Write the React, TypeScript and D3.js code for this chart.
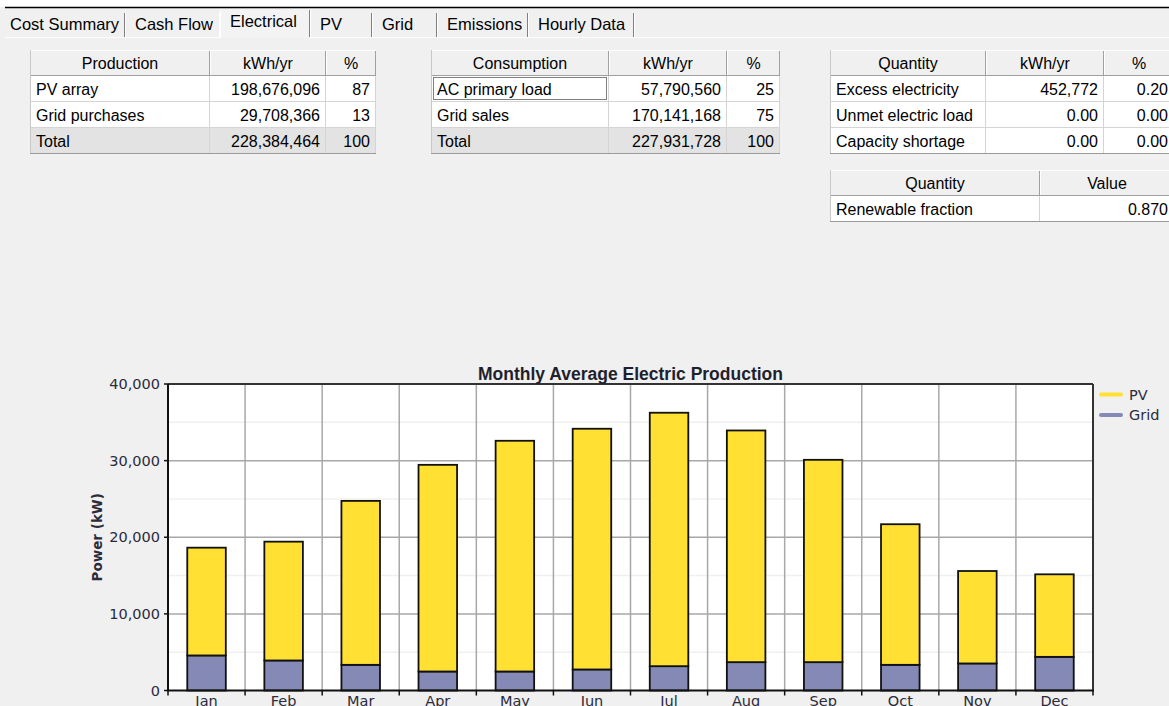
import React from "react";
import * as d3 from "d3";

const months = ["Jan", "Feb", "Mar", "Apr", "May", "Jun", "Jul", "Aug", "Sep", "Oct", "Nov", "Dec"];
const gridPower = [4575, 3920, 3350, 2480, 2480, 2745, 3175, 3700, 3700, 3350, 3530, 4390];
const pvPower = [14065, 15505, 21395, 26970, 30110, 31415, 33075, 30235, 26405, 18350, 12065, 10773];
const yTicks = [0, 10000, 20000, 30000, 40000];
const seriesNames = ["Grid", "PV"];
const legendNames = ["PV", "Grid"];
const seriesColors: Record<string, string> = { PV: "#ffe033", Grid: "#8489b5" };

const tabs = ["Cost Summary", "Cash Flow", "Electrical", "PV", "Grid", "Emissions", "Hourly Data"];

const productionHeader = ["Production", "kWh/yr", "%"];
const productionRows = [
  ["PV array", "198,676,096", "87"],
  ["Grid purchases", "29,708,366", "13"],
];
const productionTotal = ["Total", "228,384,464", "100"];

const consumptionHeader = ["Consumption", "kWh/yr", "%"];
const consumptionRows = [
  ["AC primary load", "57,790,560", "25"],
  ["Grid sales", "170,141,168", "75"],
];
const consumptionTotal = ["Total", "227,931,728", "100"];

const quantityHeader = ["Quantity", "kWh/yr", "%"];
const quantityRows = [
  ["Excess electricity", "452,772", "0.20"],
  ["Unmet electric load", "0.00", "0.00"],
  ["Capacity shortage", "0.00", "0.00"],
];

const renewableHeader = ["Quantity", "Value"];
const renewableRows = [["Renewable fraction", "0.870"]];

const UI_FONT = "'Liberation Sans', Arial, sans-serif";
const CHART_FONT = "'DejaVu Sans', Verdana, sans-serif";

type TableProps = {
  x: number;
  y: number;
  cols: number[];
  header: string[];
  rows: string[][];
  total?: string[];
  rowH?: number;
  focusFirst?: boolean;
};

function Table({ x, y, cols, header, rows, total, rowH = 26, focusFirst }: TableProps) {
  const edges = [x];
  cols.forEach((w) => edges.push(edges[edges.length - 1] + w));
  const allRows = total ? [...rows, total] : rows;
  const totalH = rowH * (allRows.length + 1);
  return (
    <g fontFamily={UI_FONT} fontSize={16} fill="#000">
      {header.map((h, i) => (
        <g key={"h" + i}>
          <rect x={edges[i]} y={y} width={cols[i]} height={rowH} fill="#f0f0f0" />
          <line x1={edges[i] + 0.5} x2={edges[i + 1]} y1={y + 0.5} y2={y + 0.5} stroke="#ffffff" />
          <line x1={edges[i] + 0.5} x2={edges[i] + 0.5} y1={y} y2={y + rowH} stroke="#ffffff" />
          <line x1={edges[i + 1] - 0.5} x2={edges[i + 1] - 0.5} y1={y + 1} y2={y + rowH} stroke="#a0a0a0" />
          <line x1={edges[i]} x2={edges[i + 1]} y1={y + rowH - 0.5} y2={y + rowH - 0.5} stroke="#a0a0a0" />
          <text x={(edges[i] + edges[i + 1]) / 2} y={y + 19} textAnchor="middle">
            {h}
          </text>
        </g>
      ))}
      {allRows.map((r, ri) => {
        const ry = y + rowH * (ri + 1);
        const isTotal = total && ri === allRows.length - 1;
        return (
          <g key={"r" + ri}>
            {r.map((c, ci) => (
              <g key={ci}>
                <rect
                  x={edges[ci]}
                  y={ry}
                  width={cols[ci]}
                  height={rowH}
                  fill={isTotal ? "#e3e3e3" : "#ffffff"}
                />
                <line x1={edges[ci + 1] - 0.5} x2={edges[ci + 1] - 0.5} y1={ry} y2={ry + rowH} stroke="#d4d4d4" />
                <line x1={edges[ci]} x2={edges[ci + 1]} y1={ry + rowH - 0.5} y2={ry + rowH - 0.5} stroke="#d4d4d4" />
                <text
                  x={ci === 0 ? edges[ci] + 6 : edges[ci + 1] - 6}
                  y={ry + 19}
                  textAnchor={ci === 0 ? "start" : "end"}
                >
                  {c}
                </text>
              </g>
            ))}
          </g>
        );
      })}
      <line x1={x + 0.5} x2={x + 0.5} y1={y} y2={y + totalH} stroke="#c8c8c8" />
      <line x1={x} x2={edges[edges.length - 1]} y1={y + totalH - 0.5} y2={y + totalH - 0.5} stroke="#9a9a9a" />
      {focusFirst && (
        <rect
          x={edges[0] + 2.5}
          y={y + rowH + 1.5}
          width={cols[0] - 5}
          height={rowH - 4}
          fill="none"
          stroke="#000"
          strokeDasharray="1 1"
        />
      )}
    </g>
  );
}

const tabEdges = [5, 125, 220, 310, 372, 437, 528, 634];

function Tabs() {
  return (
    <g fontFamily={UI_FONT} fontSize={16.5} fill="#000">
      <rect x={0} y={0} width={1169} height={7} fill="#ffffff" />
      <line x1={5} x2={1169} y1={7.5} y2={7.5} stroke="#000" strokeWidth={1.5} />
      <line x1={5} x2={1169} y1={37.5} y2={37.5} stroke="#ffffff" />
      <rect x={tabEdges[2]} y={9} width={tabEdges[3] - tabEdges[2]} height={29} fill="#f3f3f3" />
      {tabs.map((t, i) => {
        const x0 = tabEdges[i];
        const x1 = tabEdges[i + 1];
        const selected = i === 2;
        return (
          <g key={t}>
            <text x={x0 + (i === 0 ? 5 : 10)} y={selected ? 27 : 29.5}>
              {t}
            </text>
            {i !== 1 && (
              <>
                <line x1={x1 - 0.5} x2={x1 - 0.5} y1={selected ? 10 : 13} y2={37} stroke="#808080" />
                <line x1={x1 + 0.5} x2={x1 + 0.5} y1={selected ? 10 : 13} y2={37} stroke="#ffffff" />
              </>
            )}
            {i === 1 && <line x1={x1 - 0.5} x2={x1 - 0.5} y1={13} y2={37} stroke="#ffffff" />}
          </g>
        );
      })}
      <line x1={tabEdges[2] + 0.5} x2={tabEdges[2] + 0.5} y1={10} y2={37} stroke="#ffffff" />
    </g>
  );
}

function Chart() {
  const left = 168;
  const right = 1093;
  const top = 384;
  const bottom = 690.5;

  const x = d3.scaleBand<string>().domain(months).range([left, right]).paddingInner(0.5).paddingOuter(0.25);
  const y = d3.scaleLinear().domain([0, 40000]).range([bottom, top]);
  const step = x.step();

  const data = months.map((m, i) => ({ month: m, Grid: gridPower[i], PV: pvPower[i] }));
  const stacked = d3.stack<any>().keys(seriesNames)(data);

  const minorTicks = d3.range(5000, 40000, 10000);

  return (
    <g>
      <rect x={left} y={top} width={right - left} height={bottom - top} fill="#ffffff" />
      {minorTicks.map((t) => (
        <line key={"m" + t} x1={left} x2={right} y1={y(t)} y2={y(t)} stroke="#f0f0f0" strokeWidth={1.5} />
      ))}
      {yTicks.slice(1, -1).map((t) => (
        <line key={"g" + t} x1={left} x2={right} y1={y(t)} y2={y(t)} stroke="#a8a8a8" strokeWidth={1.5} />
      ))}
      {months.slice(1).map((m, i) => {
        const gx = left + step * (i + 1);
        return <line key={"v" + m} x1={gx} x2={gx} y1={top} y2={bottom} stroke="#a8a8a8" strokeWidth={1.5} />;
      })}
      {stacked.map((s) => (
        <g key={s.key}>
          {s.map((d, i) => (
            <rect
              key={i}
              x={x(months[i])!}
              y={y(d[1])}
              width={x.bandwidth()}
              height={y(d[0]) - y(d[1])}
              fill={seriesColors[s.key]}
              stroke="#111"
              strokeWidth={1.8}
            />
          ))}
        </g>
      ))}
      <line x1={left} x2={right} y1={top} y2={top} stroke="#333" strokeWidth={2} />
      <line x1={right} x2={right} y1={top} y2={bottom} stroke="#333" strokeWidth={2} />
      <line x1={left} x2={left} y1={top} y2={bottom + 1} stroke="#111" strokeWidth={2} />
      <line x1={left - 1} x2={right + 1} y1={bottom} y2={bottom} stroke="#111" strokeWidth={2} />
      <g fontFamily={CHART_FONT} fontSize={14.5} fill="#2b2b3a">
        {yTicks.map((t) => (
          <g key={"yt" + t}>
            <line x1={left - 4} x2={left} y1={y(t)} y2={y(t)} stroke="#111" strokeWidth={1.5} />
            <text x={left - 8} y={y(t) + 5} textAnchor="end">
              {d3.format(",")(t)}
            </text>
          </g>
        ))}
        {d3.range(0, 13).map((i) => {
          const tx = left + step * i;
          return <line key={"xt" + i} x1={tx} x2={tx} y1={bottom} y2={bottom + 5} stroke="#111" strokeWidth={1.5} />;
        })}
        {months.map((m) => (
          <text key={"xl" + m} x={x(m)! + x.bandwidth() / 2} y={706} textAnchor="middle">
            {m}
          </text>
        ))}
        <text
          transform={`translate(102, ${(top + bottom) / 2}) rotate(-90)`}
          textAnchor="middle"
          fontWeight="bold"
          fontSize={13.5}
        >
          Power (kW)
        </text>
      </g>
      <text
        x={(left + right) / 2}
        y={380}
        textAnchor="middle"
        fontFamily={UI_FONT}
        fontWeight="bold"
        fontSize={17.5}
        fill="#1f1f2e"
      >
        Monthly Average Electric Production
      </text>
      <g fontFamily={CHART_FONT} fontSize={14.5} fill="#2b2b3a">
        {legendNames.map((n, i) => (
          <g key={n}>
            <line
              x1={1101}
              x2={1121}
              y1={394.5 + i * 20.5}
              y2={394.5 + i * 20.5}
              stroke={seriesColors[n]}
              strokeWidth={4}
              strokeLinecap="round"
            />
            <text x={1129} y={399.5 + i * 20.5}>
              {n}
            </text>
          </g>
        ))}
      </g>
    </g>
  );
}

export default function App() {
  return (
    <div style={{ position: "absolute", left: 0, top: 0 }}>
      <svg width={1169} height={706} style={{ display: "block" }}>
        <rect x={0} y={0} width={1169} height={706} fill="#f0f0f0" />
        <Tabs />
        <Table
          x={30}
          y={50}
          cols={[180, 116, 50]}
          header={productionHeader}
          rows={productionRows}
          total={productionTotal}
        />
        <Table
          x={431}
          y={50}
          cols={[178, 118, 53]}
          header={consumptionHeader}
          rows={consumptionRows}
          total={consumptionTotal}
          focusFirst
        />
        <Table x={830} y={50} cols={[156, 118, 70]} header={quantityHeader} rows={quantityRows} />
        <Table x={830} y={170} cols={[210, 134]} header={renewableHeader} rows={renewableRows} rowH={26} />
        <Chart />
      </svg>
    </div>
  );
}
